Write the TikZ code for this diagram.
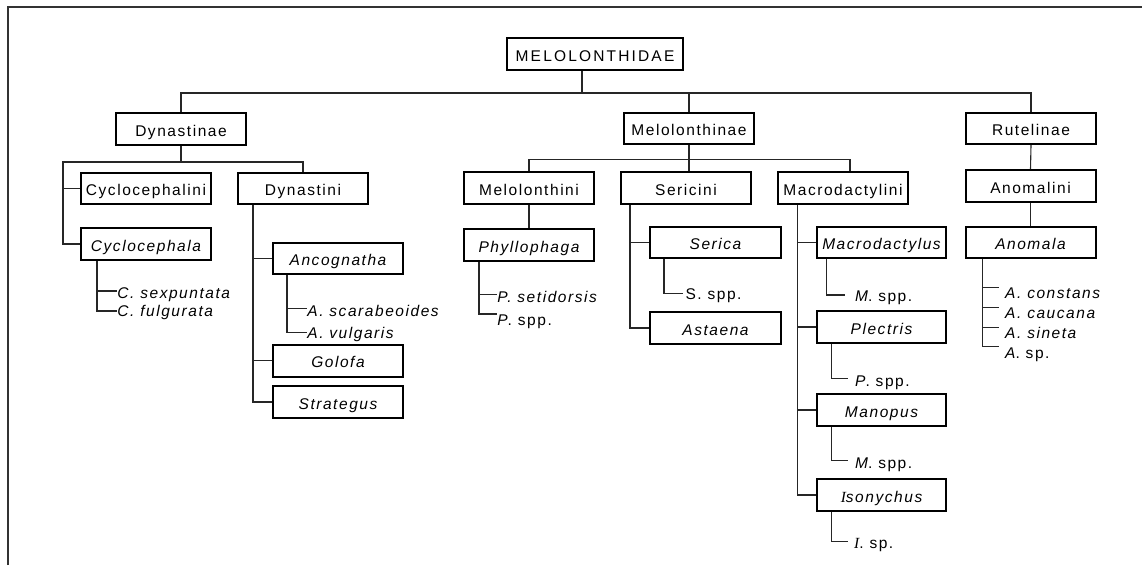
\documentclass[tikz,border=0pt]{standalone}
\usepackage{fontspec}
\setmainfont{Liberation Sans}[LetterSpace=10]
\newfontfamily\serI{Liberation Serif}[LetterSpace=10]
\begin{document}
\begin{tikzpicture}[x=1pt,y=-1pt,
  every node/.style={font=\fontsize{15.5}{18}\selectfont},
  box/.style={draw=black, line width=2pt, inner sep=0pt, minimum width=130pt, minimum height=31pt, text height=14.5pt, text depth=0pt, fill=white},
  lab/.style={anchor=west, inner ysep=0pt, inner xsep=0.5pt, text height=11.5pt, text depth=0pt},
  conn/.style={draw=black!85, line width=1.1pt}
]
\useasboundingbox (0,0) rectangle (1142,565);
\draw[line width=1.6pt, black!80] (8,565) -- (8,7) -- (1142,7);

% boxes
\node[box, minimum width=176pt, minimum height=32pt] (mel) at (595,54) {\addfontfeature{LetterSpace=14}MELOLONTHIDAE};
\node[box, minimum height=32pt] (dyn) at (181,129) {Dynastinae};
\node[box] (melinae) at (689,128.5) {Melolonthinae};
\node[box] (rut) at (1031,128.5) {Rutelinae};

\node[box] (cyclini) at (146,188.5) {Cyclocephalini};
\node[box, minimum height=32pt] (cycla) at (146,244) {\itshape Cyclocephala};
\node[box] (dynini) at (303,188.5) {Dynastini};
\node[box] (anc) at (338,258.5) {\itshape Ancognatha};
\node[box, minimum height=32pt] (gol) at (338,360.5) {\itshape Golofa};
\node[box, minimum height=32pt] (str) at (338,402) {\itshape Strategus};

\node[box, minimum height=32pt] (melini) at (529,188) {Melolonthini};
\node[box, minimum height=32pt] (seri) at (686,188) {Sericini};
\node[box, minimum height=32pt] (macini) at (843,188) {Macrodactylini};
\node[box, minimum height=32pt] (anomini) at (1030.5,186) {Anomalini};
\node[box] (anomala) at (1030.5,242.5) {\itshape Anomala};

\node[box, minimum height=32pt] (phyl) at (529,245) {\itshape Phyllophaga};
\node[box, minimum width=131pt] (serica) at (715.5,242.5) {\itshape Serica};
\node[box, minimum width=131pt, minimum height=32pt] (ast) at (715.5,328) {\itshape Astaena};
\node[box, minimum width=129pt] (macro) at (881.5,242.5) {\itshape Macrodactylus};
\node[box, minimum width=129pt, minimum height=32pt] (plec) at (881.5,327) {\itshape Plectris};
\node[box, minimum width=129pt, minimum height=32pt] (manop) at (881.5,410) {\itshape Manopus};
\node[box, minimum width=129pt, minimum height=32pt] (isony) at (881.5,495) {{\serI\itshape I}\itshape sonychus};

% labels
\node[lab] (c1) at (116.7,292.5) {\itshape C. sexpuntata};
\node[lab] (c2) at (116.7,311) {\itshape C. fulgurata};
\node[lab] (a1) at (306.7,311) {\itshape A. scarabeoides};
\node[lab] (a2) at (306.7,332.5) {\itshape A. vulgaris};
\node[lab] (p1) at (496.7,296.3) {\itshape P. setidorsis};
\node[lab] (p2) at (496.7,319.5) {\textit{P}. spp.};
\node[lab, inner xsep=2pt] (s1) at (683.3,294) {S. spp.};
\node[lab, inner xsep=10pt] (m1) at (845,296) {\textit{M}. spp.};
\node[lab, inner xsep=6.7pt] (pl1) at (848.3,381) {\textit{P}. spp.};
\node[lab, inner xsep=6.7pt] (mn1) at (848.3,463) {\textit{M}. spp.};
\node[lab, inner xsep=5.7pt] (is1) at (848.3,543) {{\serI\itshape I}. sp.};
\node[lab, inner xsep=5.7pt] (an1) at (999.3,292.5) {\itshape A. constans};
\node[lab, inner xsep=5.7pt] (an2) at (999.3,312.5) {\itshape A. caucana};
\node[lab, inner xsep=5.7pt] (an3) at (999.3,333) {\itshape A. sineta};
\node[lab, inner xsep=5.7pt] (an4) at (999.3,353) {\textit{A}. sp.};

% helper coordinates
\coordinate (tb) at (0,93);
\coordinate (db) at (63,162);
\coordinate (mb) at (0,159.3);
\coordinate (cx) at (97,0);
\coordinate (dx) at (253,0);
\coordinate (ax) at (287,0);
\coordinate (px) at (479,0);
\coordinate (sx) at (630,0);
\coordinate (ssx) at (664,0);
\coordinate (mx) at (797.7,0);
\coordinate (m1x) at (826.7,0);
\coordinate (m2x) at (831.7,0);
\coordinate (anx) at (982.7,0);
\coordinate (melstem) at ([xshift=-13pt]mel.south);
\coordinate (macin) at ([xshift=7pt]macini.north);
\coordinate (t1) at ([yshift=5.2pt]an1.west);
\coordinate (t2) at ([yshift=5.2pt]an2.west);
\coordinate (t3) at ([yshift=5.3pt]an3.west);
\coordinate (t4) at ([yshift=6.3pt]an4.west);

% connectors
\draw[conn] (melstem) -- (melstem |- tb);
\draw[conn] (dyn.north) |- (tb -| rut.north) -- (rut.north);
\draw[conn] (melinae.north) -- (melinae.north |- tb);

\draw[conn] (dyn.south) -- (dyn.south |- db);
\draw[conn] (dynini.north) |- (db) |- (cycla.west);
\draw[conn] (cyclini.west -| db) -- (cyclini.west);

\draw[conn] (cycla.south -| cx) |- ([yshift=1.5pt]c1.west);
\draw[conn] (cycla.south -| cx) |- (c2.west);

\draw[conn] (dynini.south -| dx) |- (str.west);
\draw[conn] (anc.west -| dx) -- (anc.west);
\draw[conn] (gol.west -| dx) -- (gol.west);

\draw[conn] (anc.south -| ax) |- ([yshift=2.7pt]a1.west);
\draw[conn] (anc.south -| ax) |- (a2.west);

\draw[conn] (melinae.south) -- (melinae.south |- seri.north);
\draw[conn] (melini.north) |- (mb -| macin) -- (macin);

\draw[conn] (melini.south) -- (phyl.north);
\draw[conn] (phyl.south -| px) |- ([yshift=2pt]p1.west);
\draw[conn] (phyl.south -| px) |- ([yshift=5.5pt]p2.west);

\draw[conn] (seri.south -| sx) |- (ast.west);
\draw[conn] (serica.west -| sx) -- (serica.west);
\draw[conn] (serica.south -| ssx) |- ([yshift=0.7pt]s1.west);

\draw[conn] (macini.south -| mx) |- (isony.west);
\draw[conn] (macro.west -| mx) -- (macro.west);
\draw[conn] (plec.west -| mx) -- (plec.west);
\draw[conn] (manop.west -| mx) -- (manop.west);
\draw[conn] (macro.south -| m1x) |- ([yshift=1pt]m1.west);
\draw[conn] (plec.south -| m2x) |- ([yshift=2.7pt]pl1.west);
\draw[conn] (manop.south -| m2x) |- ([yshift=2.3pt]mn1.west);
\draw[conn] (isony.south -| m2x) |- ([yshift=1.3pt]is1.west);

\draw[conn] (rut.south) -- (anomini.north);
\draw[conn] (anomini.south) -- (anomala.north);
\draw[conn] (anomala.south -| anx) |- (t4);
\draw[conn] (anx |- t1) -- (t1);
\draw[conn] (anx |- t2) -- (t2);
\draw[conn] (anx |- t3) -- (t3);
\end{tikzpicture}
\end{document}
